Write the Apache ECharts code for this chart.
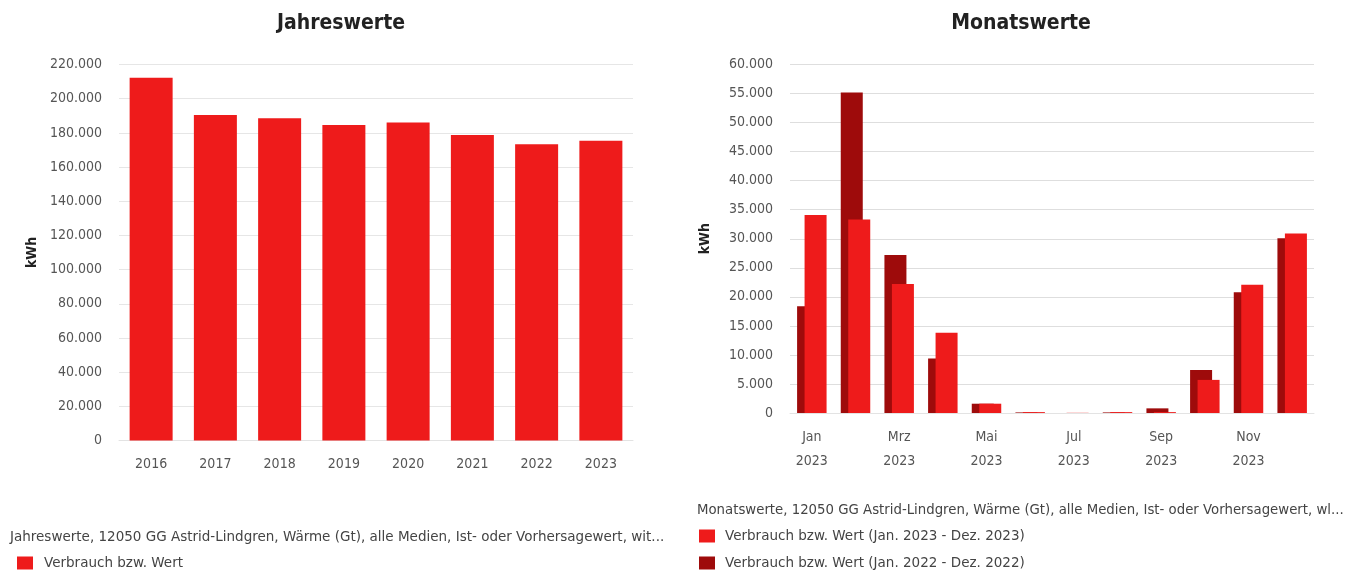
<!DOCTYPE html>
<html>
<head>
<meta charset="utf-8">
<script src="https://cdn.jsdelivr.net/npm/echarts@6/dist/echarts.min.js"></script>
<style>
html,body{margin:0;padding:0;background:#fff;}
#c{width:1347px;height:571px;}
</style>
</head>
<body>
<div id="c"></div>
<script>
const years = ['2016','2017','2018','2019','2020','2021','2022','2023'];
const yearValues = [212300, 190400, 188500, 184600, 186000, 178800, 173300, 175400];
const yearTicks = [0,20000,40000,60000,80000,100000,120000,140000,160000,180000,200000,220000];

const months = ['Jan','Feb','Mrz','Apr','Mai','Jun','Jul','Aug','Sep','Okt','Nov','Dez'];
const values2023 = [34100, 33300, 22200, 13800, 1600, 150, 30, 150, 150, 5700, 22100, 30900];
const values2022 = [18400, 55200, 27200, 9400, 1600, 100, 0, 100, 800, 7400, 20800, 30100];
const monthTicks = [0,5000,10000,15000,20000,25000,30000,35000,40000,45000,50000,55000,60000];

const nameYear = 'Verbrauch bzw. Wert';
const name2023 = 'Verbrauch bzw. Wert (Jan. 2023 - Dez. 2023)';
const name2022 = 'Verbrauch bzw. Wert (Jan. 2022 - Dez. 2022)';
const captionYear = 'Jahreswerte, 12050 GG Astrid-Lindgren, Wärme (Gt), alle Medien, Ist- oder Vorhersagewert, wit...';
const captionMonth = 'Monatswerte, 12050 GG Astrid-Lindgren, Wärme (Gt), alle Medien, Ist- oder Vorhersagewert, wl...';

const RED = '#ee1b1b';
const DARK = '#9e0b0b';
const FONT = '"DejaVu Sans Condensed", "DejaVu Sans", sans-serif';
const FONT_WIDE = '"DejaVu Sans", sans-serif';

function fmt(v){
  return String(v).replace(/\B(?=(\d{3})+(?!\d))/g, '.');
}

const chart = echarts.init(document.getElementById('c'), null, {renderer:'canvas'});
const axisLabelY = {color:'#555', fontSize:14, fontFamily:FONT, margin:17, formatter:fmt};

chart.setOption({
  animation:false,
  backgroundColor:'#fff',
  textStyle:{fontFamily:FONT},
  title:[
    {text:'Jahreswerte', left:336, top:8, textAlign:'center',
     textStyle:{fontSize:21, fontWeight:'bold', color:'#222', fontFamily:FONT}},
    {text:'Monatswerte', left:1016, top:8, textAlign:'center',
     textStyle:{fontSize:21, fontWeight:'bold', color:'#222', fontFamily:FONT}},
    {text:captionYear, left:5, top:525,
     textStyle:{fontSize:13.5, fontWeight:'normal', color:'#444', fontFamily:FONT_WIDE}},
    {text:captionMonth, left:692, top:499,
     textStyle:{fontSize:13.3, fontWeight:'normal', color:'#444', fontFamily:FONT_WIDE}}
  ],
  legend:[
    {data:[nameYear], left:17, top:556, padding:0, orient:'vertical', icon:'rect',
     itemWidth:16, itemHeight:13, itemGap:13,
     textStyle:{fontSize:13.5, color:'#444', fontFamily:FONT_WIDE, padding:[0,0,0,6]}, selectedMode:false},
    {data:[name2023, name2022], left:699, top:529, padding:0, orient:'vertical', icon:'rect',
     itemWidth:16, itemHeight:13, itemGap:13, height:50,
     textStyle:{fontSize:13.5, color:'#444', fontFamily:FONT_WIDE, padding:[0,0,0,5]}, selectedMode:false}
  ],
  grid:[
    {left:119, top:64.5, width:514, height:376},
    {left:790, top:64.5, width:524, height:348.5}
  ],
  xAxis:[
    {type:'category', gridIndex:0, data:years,
     axisLine:{show:true, lineStyle:{color:'#e3e3e3'}},
     axisTick:{show:false},
     axisLabel:{color:'#555', fontSize:14, fontFamily:FONT, margin:17}},
    {type:'category', gridIndex:1, data:months,
     axisLine:{show:true, lineStyle:{color:'#e3e3e3'}},
     axisTick:{show:false},
     axisLabel:{color:'#555', fontSize:14, fontFamily:FONT, margin:12, interval:1,
       lineHeight:24, formatter:function(v){return v + '\n2023';}}}
  ],
  yAxis:[
    {type:'value', gridIndex:0, min:yearTicks[0], max:yearTicks[yearTicks.length-1], interval:yearTicks[1]-yearTicks[0],
     name:'kWh', nameLocation:'middle', nameGap:80, nameRotate:90,
     nameTextStyle:{fontSize:14, fontWeight:'bold', color:'#222', fontFamily:FONT},
     axisLine:{show:false}, axisTick:{show:false},
     axisLabel:axisLabelY, splitLine:{show:true, lineStyle:{color:'#e6e6e6', width:1}}},
    {type:'value', gridIndex:1, min:monthTicks[0], max:monthTicks[monthTicks.length-1], interval:monthTicks[1]-monthTicks[0],
     name:'kWh', nameLocation:'middle', nameGap:78, nameRotate:90,
     nameTextStyle:{fontSize:14, fontWeight:'bold', color:'#222', fontFamily:FONT},
     axisLine:{show:false}, axisTick:{show:false},
     axisLabel:axisLabelY, splitLine:{show:true, lineStyle:{color:'#dedede', width:1}}}
  ],
  series:[
    {name:nameYear, type:'bar', xAxisIndex:0, yAxisIndex:0, data:yearValues,
     barWidth:43, itemStyle:{color:RED}},
    {name:name2022, type:'bar', xAxisIndex:1, yAxisIndex:1, data:values2022,
     barWidth:22, barGap:'-66%', itemStyle:{color:DARK}},
    {name:name2023, type:'bar', xAxisIndex:1, yAxisIndex:1, data:values2023,
     barWidth:22, barGap:'-66%', itemStyle:{color:RED}}
  ]
});
</script>
</body>
</html>
